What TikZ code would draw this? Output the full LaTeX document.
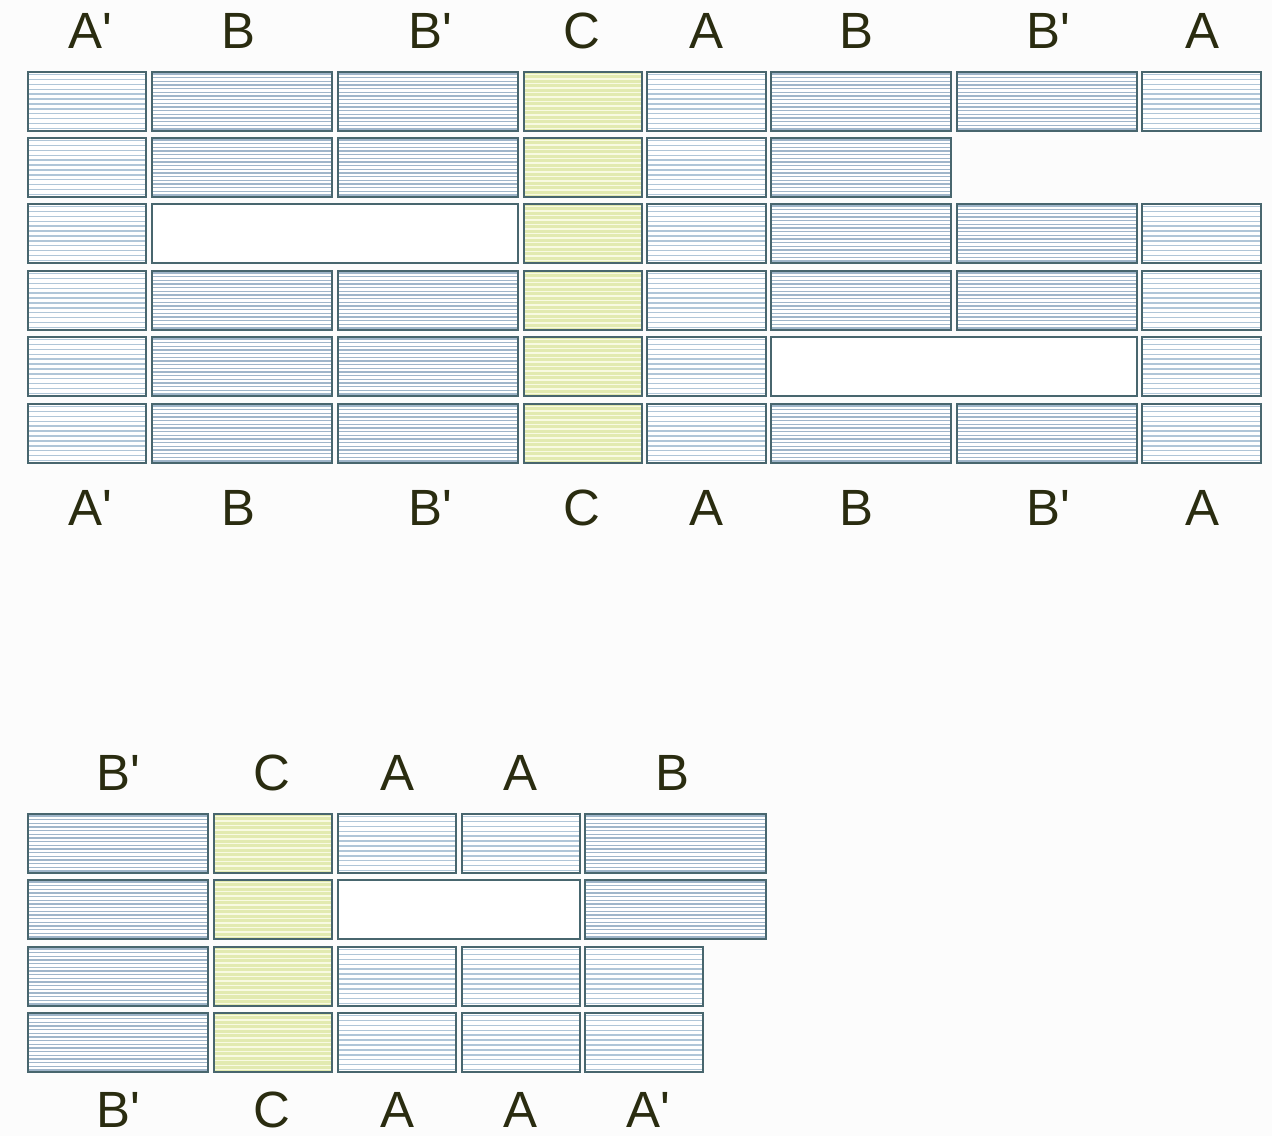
\documentclass[tikz,border=0pt]{standalone}
\usepackage{fontspec}
\setmainfont{Liberation Sans}
\definecolor{labelink}{RGB}{42,44,16}
\definecolor{tileedge}{RGB}{72,102,110}
\definecolor{stripeblue}{RGB}{176,198,216}
\definecolor{stripedark}{RGB}{160,182,202}
\definecolor{tileyellow}{RGB}{226,234,176}
\definecolor{stripeyellow}{RGB}{248,250,226}

% ladrillo: x1, y arriba, x2, relleno, color de raya, numero de rayas
\newcommand{\brickbox}[6]{%
  \fill[#4] (#1,#2) rectangle (#3,#2+59);
  \foreach \k in {1,...,#6}
    \draw[#5,line width=0.8pt] (#1,#2+\k*59/#6-59/#6/2) -- (#3,#2+\k*59/#6-59/#6/2);
  \draw[tileedge,line width=0.8pt] (#1,#2) rectangle (#3,#2+59);}
\newcommand{\tileA}[3]{\brickbox{#1}{#2}{#3}{white}{stripeblue}{12}}
\newcommand{\tileB}[3]{\brickbox{#1}{#2}{#3}{white}{stripedark}{16}}
\newcommand{\tileC}[3]{\brickbox{#1}{#2}{#3}{tileyellow}{stripeyellow}{13}}
\newcommand{\tileE}[3]{\draw[tileedge,line width=0.8pt,fill=white] (#1,#2) rectangle (#3,#2+59);}
\newcommand{\pr}{\textquotesingle}

\begin{document}
\begin{tikzpicture}[x=0.02cm,y=-0.02cm,
  lbl/.style={anchor=base,text=labelink,font=\fontsize{29}{31}\selectfont,inner sep=0pt}]
  \useasboundingbox (0,0) rectangle (1272,1136);
  \fill[white!99!black] (0,0) rectangle (1272,1136);
  % parte de arriba
  \def\colsTop{28/146/A,152/332/B,338/518/B,524/642/C,647/766/A,771/951/B,957/1137/B,1142/1261/A}
  \foreach \y in {72,271,404}
    \foreach \xa/\xb/\k in \colsTop {\csname tile\k\endcsname{\xa}{\y}{\xb}}
  \foreach \xa/\xb/\k in {28/146/A,152/332/B,338/518/B,524/642/C,647/766/A,771/951/B}
    {\csname tile\k\endcsname{\xa}{138}{\xb}}
  \foreach \xa/\xb/\k in {28/146/A,152/518/E,524/642/C,647/766/A,771/951/B,957/1137/B,1142/1261/A}
    {\csname tile\k\endcsname{\xa}{204}{\xb}}
  \foreach \xa/\xb/\k in {28/146/A,152/332/B,338/518/B,524/642/C,647/766/A,771/1137/E,1142/1261/A}
    {\csname tile\k\endcsname{\xa}{337}{\xb}}
  % etiquetas de arriba
  \foreach \x/\t [count=\i] in {90/A\pr,238/B,430/B\pr,582/C,706/A,856/B,1048/B\pr,1202/A}{
    \node[lbl] (top\i) at (\x,48) {\t};
    \node[lbl] (mid\i) at (\x,525) {\t};}
  % parte de abajo
  \foreach \y in {814}
    \foreach \xa/\xb/\k in {28/208/B,214/332/C,338/456/A,462/580/A,585/766/B}
      {\csname tile\k\endcsname{\xa}{\y}{\xb}}
  \foreach \xa/\xb/\k in {28/208/B,214/332/C,338/580/E,585/766/B}
    {\csname tile\k\endcsname{\xa}{880}{\xb}}
  \foreach \y in {947,1013}
    \foreach \xa/\xb/\k in {28/208/B,214/332/C,338/456/A,462/580/A,585/703/A}
      {\csname tile\k\endcsname{\xa}{\y}{\xb}}
  % etiquetas de abajo
  \foreach \x/\t [count=\i] in {118/B\pr,272/C,397/A,520/A,672/B}
    \node[lbl] (low\i) at (\x,790) {\t};
  \foreach \x/\t [count=\i] in {118/B\pr,272/C,397/A,520/A,648/A\pr}
    \node[lbl] (end\i) at (\x,1127) {\t};
\end{tikzpicture}
\end{document}
